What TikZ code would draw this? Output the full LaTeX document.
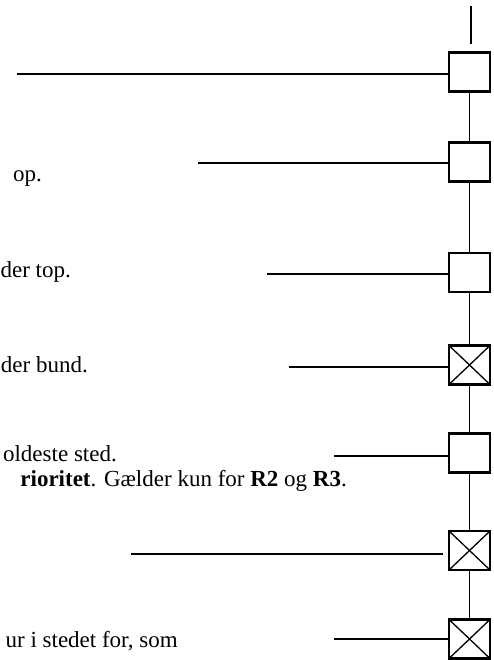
\documentclass[tikz,border=0pt]{standalone}
\usepackage{fontspec}
\setmainfont{Liberation Serif}
\begin{document}
\begin{tikzpicture}[x=1pt,y=-1pt,
  box/.style={draw, line width=2.7pt, minimum width=41pt, minimum height=39pt, inner sep=0pt, fill=white},
  xbox/.style={box, path picture={\draw[line width=1.3pt] (path picture bounding box.north west) -- (path picture bounding box.south east) (path picture bounding box.north east) -- (path picture bounding box.south west);}},
  vline/.style={line width=1.5pt},
  hline/.style={line width=2pt},
  lbl/.style={anchor=base east, inner sep=0pt, font=\fontsize{23}{27}\selectfont}]
\useasboundingbox (0,0) rectangle (494,660);
\clip (0,0) rectangle (494,660);
\fill[white] (0,0) rectangle (494,660);
% connector endpoints (positions only)
\coordinate (top1) at (471,6);
\coordinate (top2) at (471,44);
\coordinate (c1) at (469.5,72);
\coordinate (c2) at (469.5,162);
\coordinate (c3) at (469.5,272.5);
\coordinate (c4) at (469.5,365);
\coordinate (c5) at (469.5,453);
\coordinate (c6) at (469.5,550.5);
\coordinate (c7) at (469.5,639);
% vertical connectors
\draw[vline] (top1) -- (top2);
\draw[vline] (c1) -- (c2) -- (c3) -- (c4) -- (c5) -- (c6) -- (c7);
% boxes
\node[box]  (b1) at (c1) {};
\node[box]  (b2) at (c2) {};
\node[box]  (b3) at (c3) {};
\node[xbox] (b4) at (c4) {};
\node[box]  (b5) at (c5) {};
\node[xbox] (b6) at (c6) {};
\node[xbox] (b7) at (c7) {};
% horizontal leader lines
\coordinate (l1) at (17,74);
\coordinate (l2) at (198,163);
\coordinate (l3) at (267,274);
\coordinate (l4) at (289,367);
\coordinate (l5) at (334,456);
\coordinate (l6) at (131,554);
\coordinate (e6) at (443,554);
\coordinate (l7) at (334,639);
\draw[hline] (l1) -- (l1 -| b1.west);
\draw[hline] (l2) -- (l2 -| b2.west);
\draw[hline] (l3) -- (l3 -| b3.west);
\draw[hline] (l4) -- (l4 -| b4.west);
\draw[hline] (l5) -- (l5 -| b5.west);
\draw[hline] (l6) -- (e6);
\draw[hline] (l7) -- (l7 -| b7.west);
% texts (left parts cut off by the frame, as in the reference)
\node[lbl] (t1) at (42,182) {op.};
\node[lbl] (t2) at (71,277) {der top.};
\node[lbl] (t3) at (88,372) {der bund.};
\node[lbl] (t4) at (117,461) {oldeste sted.};
\node[lbl] (t5) at (347,486) {\textbf{rioritet}. Gælder kun for \textbf{R2} og \textbf{R3}.};
\node[lbl] (t6) at (178,647) {ur i stedet for, som};
\end{tikzpicture}
\end{document}
